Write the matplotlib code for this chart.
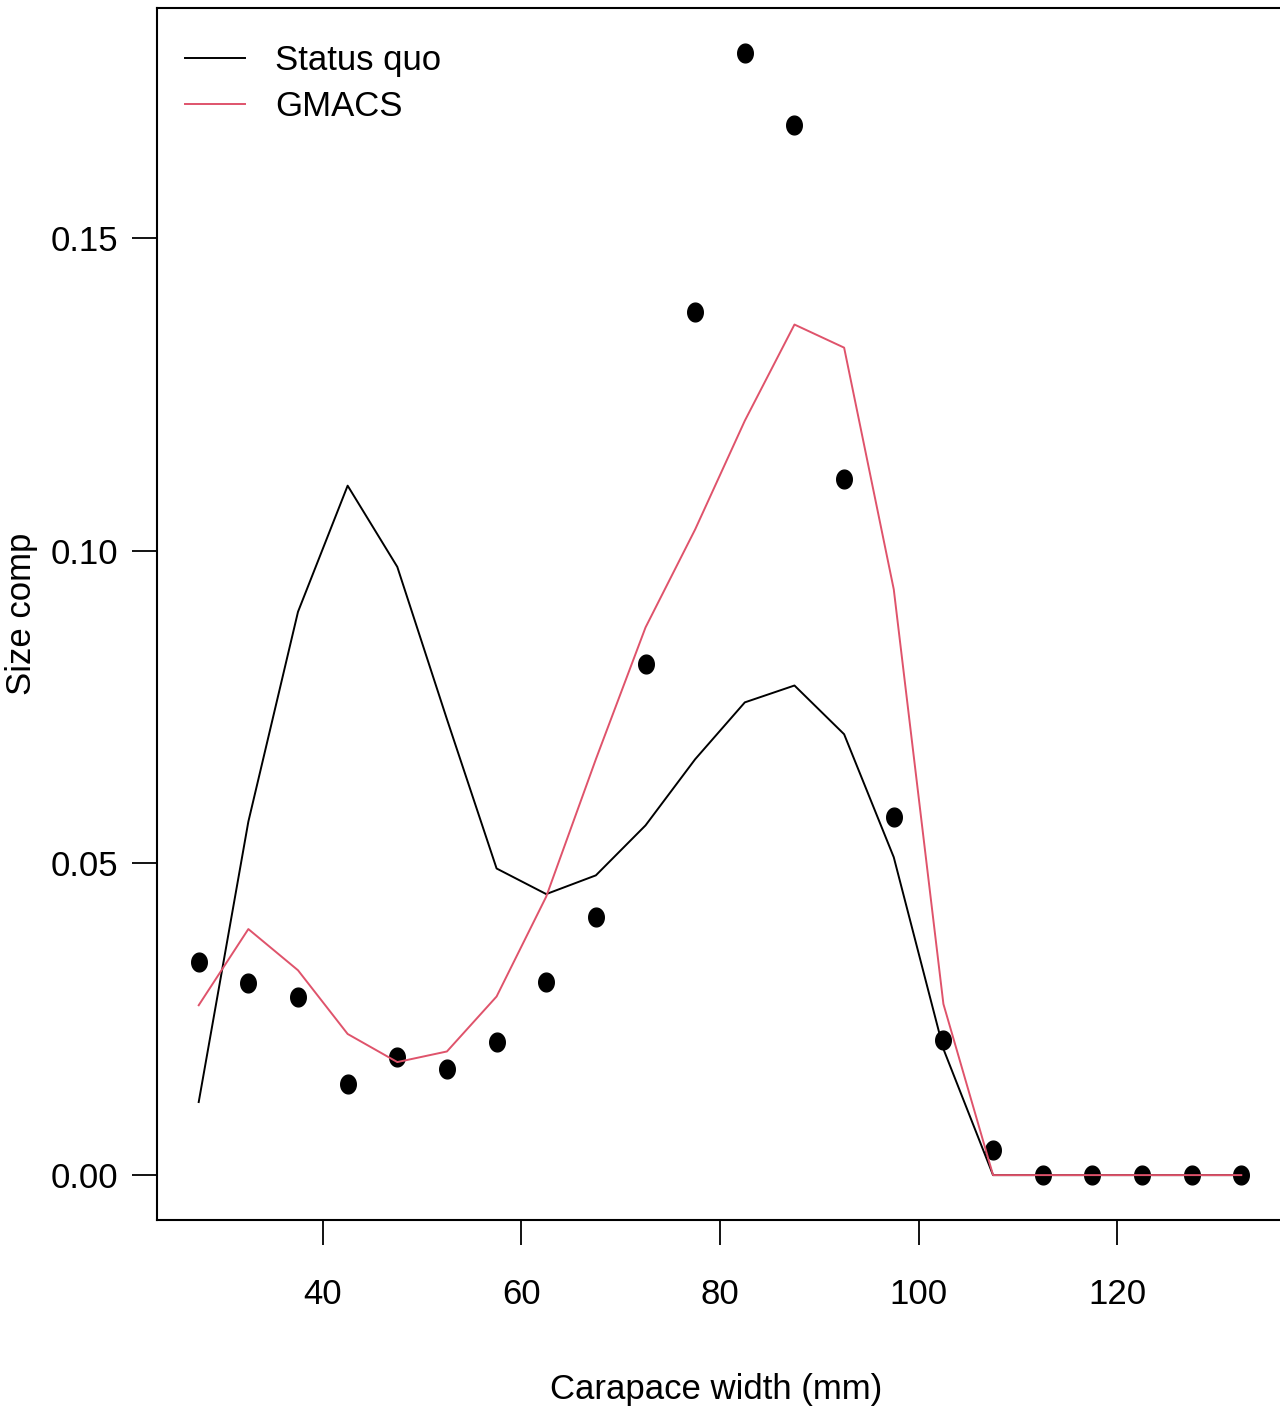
import matplotlib
matplotlib.use("Agg")
import matplotlib.pyplot as plt
from matplotlib.path import Path
import numpy as np

# Data
carapace_width = [27.5, 32.5, 37.5, 42.5, 47.5, 52.5, 57.5, 62.5, 67.5, 72.5, 77.5,
                  82.5, 87.5, 92.5, 97.5, 102.5, 107.5, 112.5, 117.5, 122.5, 127.5, 132.5]
observed = [0.0342, 0.0307, 0.0286, 0.0146, 0.0189, 0.0170, 0.0213, 0.0309, 0.0413,
            0.0819, 0.1382, 0.1797, 0.1682, 0.1114, 0.0573, 0.0216, 0.0040,
            0.0, 0.0, 0.0, 0.0, 0.0]
status_quo = [0.0117, 0.0566, 0.0902, 0.1104, 0.0974, 0.0730, 0.0491, 0.0450, 0.0480,
              0.0560, 0.0666, 0.0757, 0.0784, 0.0706, 0.0509, 0.0202, 0.0,
              0.0, 0.0, 0.0, 0.0, 0.0]
gmacs = [0.0272, 0.0394, 0.0328, 0.0226, 0.0181, 0.0198, 0.0286, 0.0446, 0.0666,
         0.0877, 0.1034, 0.1208, 0.1362, 0.1325, 0.0938, 0.0274, 0.0,
         0.0, 0.0, 0.0, 0.0, 0.0]
series_labels = ["Status quo", "GMACS"]
x_ticks = [40, 60, 80, 100, 120]
y_ticks = [0.00, 0.05, 0.10, 0.15]
y_tick_labels = ["0.00", "0.05", "0.10", "0.15"]

plt.rcParams['font.family'] = ['Liberation Sans', 'DejaVu Sans']
FS = 25

fig = plt.figure(figsize=(12.8, 14.07), dpi=100)
ax = fig.add_axes([157/1280, (1407-1220)/1407, (1283-157)/1280, (1220-8)/1407])

# slightly tall elliptical marker, as in the reference
t = np.linspace(0, 2*np.pi, 60)
ell = Path(np.column_stack([0.83*np.cos(t), np.sin(t)]), closed=True)

ax.plot(carapace_width, observed, marker=ell, color='black', markersize=13.5, linestyle='none')
l1, = ax.plot(carapace_width, status_quo, color='black', linewidth=1.4)
l2, = ax.plot(carapace_width, gmacs, color='#DF536B', linewidth=1.4)

x0, x1 = min(carapace_width), max(carapace_width)
dx = (x1 - x0) * 0.04
ax.set_xlim(x0 - dx, x1 + dx)
ymax = 0.1797
dy = ymax * 0.04
ax.set_ylim(-dy, ymax + dy)

ax.set_xticks(x_ticks)
ax.set_xticklabels([str(t) for t in x_ticks])
ax.set_yticks(y_ticks)
ax.set_yticklabels(y_tick_labels)
ax.tick_params(axis='both', length=18, width=1.3, labelsize=FS, direction='out')
ax.tick_params(axis='x', pad=24)
ax.tick_params(axis='y', pad=10)
for s in ax.spines.values():
    s.set_linewidth(1.5)

ax.set_xlabel("Carapace width (mm)", fontsize=FS)
ax.xaxis.set_label_coords(0.497, -0.126)
ax.set_ylabel("Size comp", fontsize=FS)
ax.yaxis.set_label_coords(-0.106, 0.5)

leg = ax.legend([l1, l2], series_labels, loc='upper left', frameon=False, fontsize=FS,
                handlelength=1.73, handletextpad=0.86, labelspacing=0.37,
                borderaxespad=0.0, borderpad=0.0, bbox_to_anchor=(0.025, 0.97))

fig.savefig("out.png", dpi=100)
